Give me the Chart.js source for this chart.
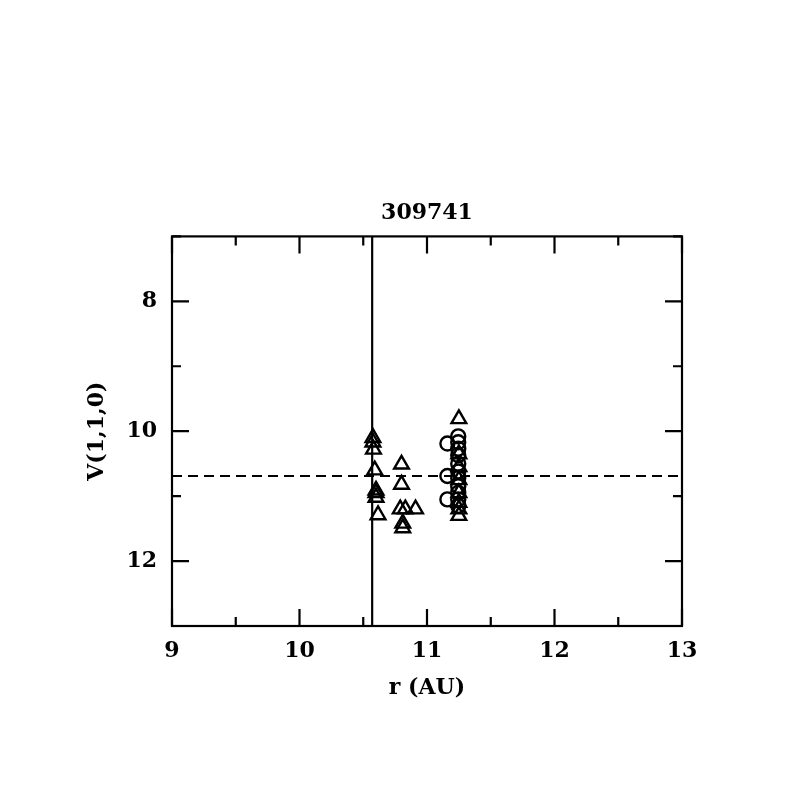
<!DOCTYPE html>
<html>
<head>
<meta charset="utf-8">
<script src="https://cdn.jsdelivr.net/npm/chart.js@4/dist/chart.umd.min.js"></script>
<style>
html,body{margin:0;padding:0;background:#fff;}
canvas{display:block;}
</style>
</head>
<body>
<canvas id="c" width="797" height="797"></canvas>
<script>
// ---- data ----
const chartTitle = "309741";
const xTitle = "r (AU)";
const yTitle = "V(1,1,0)";

const triangleR = [10.576, 10.576, 10.58, 10.59, 10.60, 10.60, 10.60, 10.616,
                   10.80, 10.80, 10.79, 10.83, 10.91, 10.81, 10.81,
                   11.25, 11.25, 11.25, 11.25, 11.25, 11.25, 11.25, 11.25];
const triangleV = [10.10, 10.17, 10.28, 10.60, 10.91, 10.95, 11.02, 11.29,
                   10.51, 10.82, 11.20, 11.20, 11.20, 11.42, 11.49,
                    9.81, 10.35, 10.55, 10.75, 10.95, 11.10, 11.20, 11.30];

const circleR = [11.16, 11.16, 11.16,
                 11.245, 11.245, 11.245, 11.245, 11.245, 11.245, 11.245, 11.245, 11.245, 11.245, 11.245];
const circleV = [10.19, 10.69, 11.05,
                 10.08, 10.17, 10.27, 10.37, 10.50, 10.62, 10.72, 10.85, 10.95, 11.05, 11.15];

const verticalLineR = 10.57;   // solid vertical reference line
const meanV = 10.69;           // dashed horizontal reference line

const xRange = [9, 13];
const yRange = [7, 13];
const xMajorTicks = [9, 10, 11, 12, 13];
const xMinorTicks = [9.5, 10.5, 11.5, 12.5];
const yMajorTicks = [8, 10, 12];
const yMinorTicks = [7, 9, 11, 13];

// ---- chart ----
const FONT = "'DejaVu Serif', serif";
const toPts = (xs, ys) => xs.map((x, i) => ({x: x, y: ys[i]}));

const frameTicks = {
  id: 'frameTicks',
  afterDatasetsDraw(chart) {
    const {ctx, chartArea: a, scales: {x, y}} = chart;
    ctx.save();
    ctx.strokeStyle = '#000';
    ctx.lineWidth = 2.2;
    ctx.lineCap = 'butt';
    ctx.strokeRect(a.left, a.top, a.right - a.left, a.bottom - a.top);
    ctx.beginPath();
    const xt = (vals, len) => vals.forEach(v => {
      const p = x.getPixelForValue(v);
      ctx.moveTo(p, a.bottom); ctx.lineTo(p, a.bottom - len);
      ctx.moveTo(p, a.top); ctx.lineTo(p, a.top + len);
    });
    const yt = (vals, len) => vals.forEach(v => {
      const p = y.getPixelForValue(v);
      ctx.moveTo(a.left, p); ctx.lineTo(a.left + len, p);
      ctx.moveTo(a.right, p); ctx.lineTo(a.right - len, p);
    });
    xt(xMajorTicks, 17); xt(xMinorTicks, 9);
    yt(yMajorTicks, 17); yt(yMinorTicks, 9);
    ctx.stroke();
    ctx.restore();
  }
};

new Chart(document.getElementById('c'), {
  type: 'scatter',
  data: {
    datasets: [
      {
        label: 'triangles',
        data: toPts(triangleR, triangleV),
        pointStyle: 'triangle',
        pointRadius: 8.5,
        borderColor: '#000',
        backgroundColor: 'rgba(0,0,0,0)',
        borderWidth: 2.4
      },
      {
        label: 'circles',
        data: toPts(circleR, circleV),
        pointStyle: 'circle',
        pointRadius: 7,
        borderColor: '#000',
        backgroundColor: 'rgba(0,0,0,0)',
        borderWidth: 2.4
      },
      {
        type: 'line',
        label: 'vline',
        data: [{x: verticalLineR, y: yRange[0]}, {x: verticalLineR, y: yRange[1]}],
        borderColor: '#000',
        borderWidth: 2.2,
        pointRadius: 0,
        fill: false
      },
      {
        type: 'line',
        label: 'hline',
        data: [{x: xRange[0], y: meanV}, {x: xRange[1], y: meanV}],
        borderColor: '#000',
        borderWidth: 2.2,
        borderDash: [10, 6],
        pointRadius: 0,
        fill: false
      }
    ]
  },
  options: {
    responsive: false,
    animation: false,
    layout: {padding: {left: 0, right: 115, top: 0, bottom: 0}},
    plugins: {
      legend: {display: false},
      tooltip: {enabled: false},
      title: {
        display: true,
        fullSize: false,
        text: chartTitle,
        color: '#000',
        font: {family: FONT, size: 22, weight: 'bold', lineHeight: 1.2},
        padding: {top: 200, bottom: 10}
      }
    },
    scales: {
      x: {
        type: 'linear',
        min: xRange[0], max: xRange[1],
        grid: {display: false, drawTicks: false},
        border: {display: false},
        afterBuildTicks: s => { s.ticks = xMajorTicks.map(v => ({value: v})); },
        ticks: {color: '#000', padding: 12, font: {family: FONT, size: 22, weight: 'bold'}, callback: v => String(v)},
        title: {display: true, text: xTitle, color: '#000',
                font: {family: FONT, size: 22, weight: 'bold', lineHeight: 1.2}, padding: {top: 0, bottom: 96}},
        afterFit: s => { s.height = 171; }
      },
      y: {
        type: 'linear',
        reverse: true,
        min: yRange[0], max: yRange[1],
        grid: {display: false, drawTicks: false},
        border: {display: false},
        afterBuildTicks: s => { s.ticks = yMajorTicks.map(v => ({value: v})); },
        ticks: {color: '#000', padding: 15, font: {family: FONT, size: 22, weight: 'bold'}, callback: v => String(v)},
        title: {display: true, text: yTitle, color: '#000',
                font: {family: FONT, size: 22, weight: 'bold', lineHeight: 1.2}, padding: {top: 84, bottom: 0}},
        afterFit: s => { s.width = 172; }
      }
    }
  },
  plugins: [frameTicks]
});
</script>
</body>
</html>
